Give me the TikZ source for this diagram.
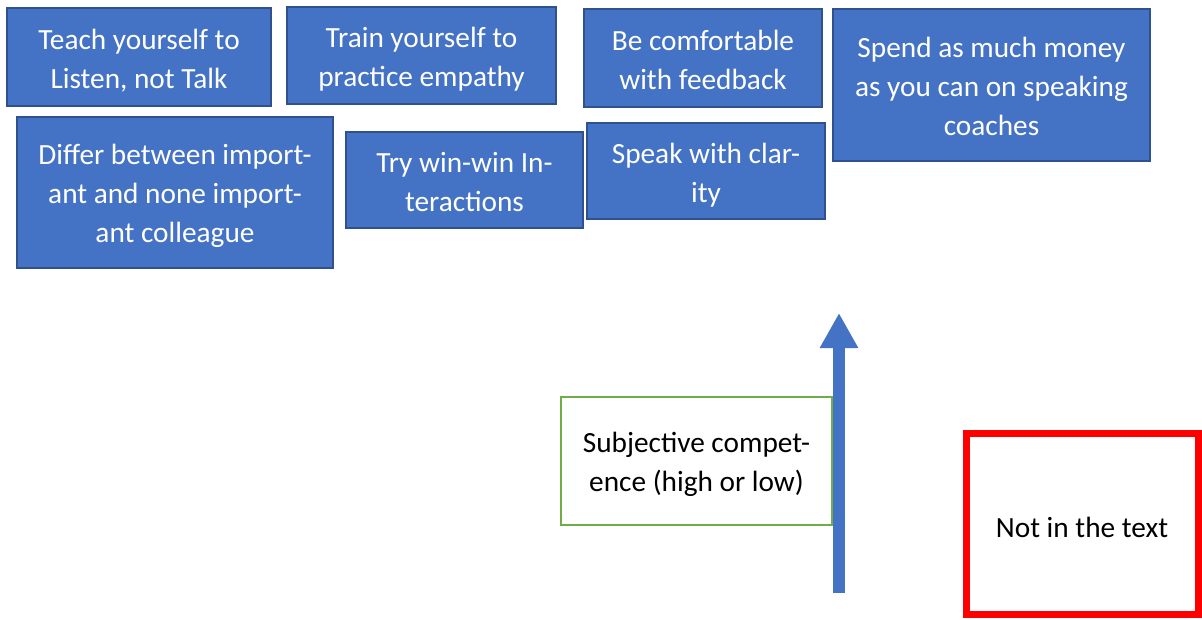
\documentclass[tikz,border=0pt]{standalone}
\usepackage{fontspec}
\setmainfont{Carlito}
\usetikzlibrary{arrows.meta}
\definecolor{boxblue}{HTML}{4472C4}
\definecolor{boxedge}{HTML}{2F528F}
\definecolor{boxgreen}{HTML}{70AD47}
\definecolor{boxred}{HTML}{FF0000}
\newcommand\ls{\rule[-5pt]{0pt}{33pt}}
\tikzset{
  bluebox/.style={rectangle, fill=boxblue, draw=boxedge, line width=2.2pt, text=white,
    align=center, inner sep=0pt, font=\fontsize{29.3}{39}\selectfont},
  greenbox/.style={rectangle, draw=boxgreen, line width=2pt, fill=white, text=black,
    align=center, inner sep=0pt, font=\fontsize{29.3}{39}\selectfont},
  redbox/.style={rectangle, draw=boxred, line width=7pt, text=black,
    align=center, inner sep=0pt, font=\fontsize{29.3}{39}\selectfont},
  bigarrow/.style={draw=boxblue, line width=12pt, line cap=butt,
    -{Triangle[width=36pt,length=35pt]}}
}
\begin{document}
\begin{tikzpicture}[x=1pt,y=-1pt]
\useasboundingbox (0,0) rectangle (1202,619);
\node[bluebox, minimum width=264pt, minimum height=98pt] (b1) at (139,57) {\ls Teach yourself to\\Listen, not Talk\ls};
\node[bluebox, minimum width=269pt, minimum height=97pt] (b2) at (421.5,55.5) {\ls Train yourself to\\practice empathy\ls};
\node[bluebox, minimum width=238pt, minimum height=98pt] (b3) at (703,58) {\ls Be comfortable\\with feedback\ls};
\node[bluebox, minimum width=317pt, minimum height=152pt] (b4) at (991.5,85) {\ls Spend as much money\\as you can on speaking\\coaches\ls};
\node[bluebox, minimum width=316pt, minimum height=151pt] (b5) at (175,192.5) {\ls Differ between import-\\ant and none import-\\ant colleague\ls};
\node[bluebox, minimum width=237pt, minimum height=96pt] (b6) at (464.5,180) {\ls Try win-win In-\\teractions\ls};
\node[bluebox, minimum width=238pt, minimum height=96pt] (b7) at (706,171) {\ls Speak with clar-\\ity\ls};
\node[greenbox, minimum width=271pt, minimum height=128pt] (g) at (696.5,461) {\ls Subjective compet-\\ence (high or low)\ls};
\coordinate (tail) at (839,593);
\coordinate (tip) at (839,313);
\draw[bigarrow] (tail) -- (tip);
\node[redbox, minimum width=232pt, minimum height=181pt] (r) at (1082,523.5) {\rule[-4pt]{0pt}{35pt}Not in the text};
\end{tikzpicture}
\end{document}
